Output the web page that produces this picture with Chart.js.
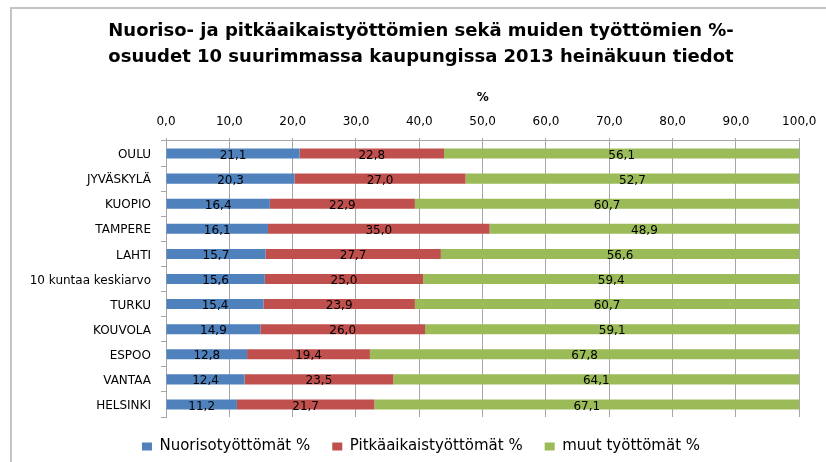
<!DOCTYPE html>
<html>
<head>
<meta charset="utf-8">
<script src="https://cdn.jsdelivr.net/npm/chart.js@4"></script>
<style>
  html, body { margin: 0; padding: 0; background: #ffffff; overflow: hidden; }
  #c { display: block; }
</style>
</head>
<body>
<canvas id="c" width="826" height="462"></canvas>
<script>
const titleLines = ['Nuoriso- ja pitkäaikaistyöttömien sekä muiden työttömien %-', 'osuudet 10 suurimmassa kaupungissa 2013 heinäkuun tiedot'];
const axisTitle = '%';
const categories = ['OULU', 'JYVÄSKYLÄ', 'KUOPIO', 'TAMPERE', 'LAHTI', '10 kuntaa keskiarvo', 'TURKU', 'KOUVOLA', 'ESPOO', 'VANTAA', 'HELSINKI'];
const seriesNames = ['Nuorisotyöttömät %', 'Pitkäaikaistyöttömät %', 'muut työttömät %'];
const nuoriso = [21.1, 20.3, 16.4, 16.1, 15.7, 15.6, 15.4, 14.9, 12.8, 12.4, 11.2];
const pitkaaikais = [22.8, 27.0, 22.9, 35.0, 27.7, 25.0, 23.9, 26.0, 19.4, 23.5, 21.7];
const muut = [56.1, 52.7, 60.7, 48.9, 56.6, 59.4, 60.7, 59.1, 67.8, 64.1, 67.1];
const colors = ['#4F81BD', '#C0504D', '#9BBB59'];

const FONT = 'DejaVu Sans';
const fmt = v => Number(v).toFixed(1).replace('.', ',');

const framePlugin = {
  id: 'frame',
  beforeDraw(chart) {
    const ctx = chart.ctx;
    ctx.save();
    ctx.fillStyle = '#ffffff';
    ctx.fillRect(0, 0, chart.width, chart.height);
    ctx.fillStyle = '#c4c4c4';
    ctx.fillRect(10, 7, 2, chart.height - 7);
    ctx.fillRect(10, 7, chart.width - 10, 2);
    ctx.restore();
  }
};

const labelPlugin = {
  id: 'segLabels',
  afterDatasetsDraw(chart) {
    const ctx = chart.ctx;
    ctx.save();
    ctx.font = '12px "' + FONT + '"';
    ctx.fillStyle = '#000000';
    ctx.textAlign = 'center';
    ctx.textBaseline = 'middle';
    chart.data.datasets.forEach((ds, i) => {
      const meta = chart.getDatasetMeta(i);
      meta.data.forEach((el, j) => {
        const cx = (el.x + el.base) / 2;
        ctx.fillText(fmt(ds.data[j]), cx, el.y + 2);
      });
    });
    ctx.restore();
  }
};

const gridColor = '#a6a6a6';

new Chart(document.getElementById('c'), {
  type: 'bar',
  data: {
    labels: categories,
    datasets: [
      { label: seriesNames[0], data: nuoriso, backgroundColor: colors[0] },
      { label: seriesNames[1], data: pitkaaikais, backgroundColor: colors[1] },
      { label: seriesNames[2], data: muut, backgroundColor: colors[2] }
    ]
  },
  options: {
    indexAxis: 'y',
    responsive: false,
    animation: false,
    devicePixelRatio: 1,
    barPercentage: 0.4,
    categoryPercentage: 1,
    layout: { padding: { left: 16, right: 0, top: 10, bottom: -2 } },
    plugins: {
      title: {
        display: true,
        text: titleLines,
        color: '#000000',
        font: { family: FONT, size: 18, weight: 'bold', lineHeight: 1.444 },
        padding: { top: 8, bottom: 0 }
      },
      legend: {
        position: 'bottom',
        labels: {
          boxWidth: 10,
          boxHeight: 8,
          padding: 22,
          color: '#000000',
          font: { family: FONT, size: 15 }
        }
      },
      tooltip: { enabled: false }
    },
    scales: {
      x: {
        position: 'top',
        stacked: true,
        min: 0,
        max: 100,
        ticks: {
          stepSize: 10,
          padding: 9,
          color: '#000000',
          font: { family: FONT, size: 12 },
          callback: v => fmt(v)
        },
        grid: { color: gridColor, tickLength: 3, tickColor: gridColor },
        border: { display: true, color: gridColor },
        title: {
          display: true,
          text: axisTitle,
          color: '#000000',
          font: { family: FONT, size: 12, weight: 'bold' },
          padding: { top: 20.3, bottom: 0 }
        },
        afterFit: s => { s.height = 71; s.paddingRight = 26.7; }
      },
      y: {
        stacked: true,
        ticks: {
          padding: 10,
          labelOffset: 1.5,
          color: '#000000',
          font: { family: FONT, size: 12 }
        },
        grid: { display: true, drawOnChartArea: false, offset: true, tickLength: 5, color: gridColor },
        border: { display: true, color: gridColor },
        afterFit: s => { s.width = 150; }
      }
    }
  },
  plugins: [framePlugin, labelPlugin]
});
</script>
</body>
</html>
